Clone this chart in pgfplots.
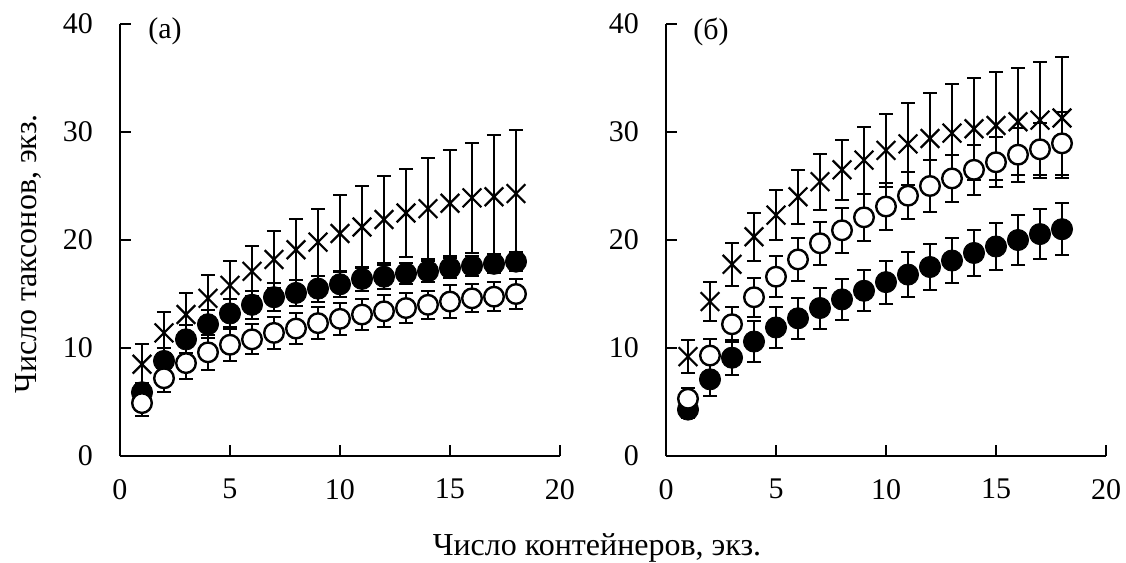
\documentclass[border=0pt]{standalone}
\usepackage{pgfplots}
\pgfplotsset{compat=1.18}
\usepackage{pgfplotstable}
\usepackage{fontspec}
\setmainfont{Liberation Serif}

% x, mean, sd -- panel (a)
\pgfplotstableread{
x y e
1 8.5 1.9
2 11.4 1.9
3 13.1 2.0
4 14.6 2.2
5 15.8 2.3
6 17.1 2.3
7 18.2 2.6
8 19.1 2.8
9 19.8 3.1
10 20.6 3.6
11 21.2 3.8
12 21.9 4.0
13 22.5 4.1
14 22.9 4.7
15 23.4 4.9
16 23.9 5.1
17 24.0 5.7
18 24.3 5.9
}\crossA
\pgfplotstableread{
x y e
1 5.9 0.9
2 8.8 1.2
3 10.8 1.3
4 12.2 1.3
5 13.2 1.3
6 14.0 1.3
7 14.7 1.3
8 15.1 1.2
9 15.5 1.2
10 15.9 1.2
11 16.4 1.1
12 16.6 1.1
13 16.9 1.0
14 17.1 1.0
15 17.4 0.9
16 17.6 0.9
17 17.8 0.9
18 18.0 0.85
}\fullA
\pgfplotstableread{
x y e
1 4.9 1.2
2 7.2 1.3
3 8.6 1.5
4 9.6 1.6
5 10.3 1.5
6 10.8 1.4
7 11.4 1.5
8 11.8 1.4
9 12.3 1.5
10 12.7 1.5
11 13.1 1.4
12 13.4 1.5
13 13.7 1.4
14 14.0 1.3
15 14.3 1.5
16 14.6 1.3
17 14.75 1.35
18 15.0 1.4
}\openA

% panel (б)
\pgfplotstableread{
x y e
1 9.2 1.5
2 14.3 1.8
3 17.75 2.0
4 20.3 2.2
5 22.3 2.3
6 24.0 2.5
7 25.4 2.6
8 26.5 2.8
9 27.4 3.1
10 28.3 3.4
11 28.9 3.8
12 29.4 4.2
13 29.9 4.5
14 30.3 4.7
15 30.6 5.0
16 30.95 4.95
17 31.1 5.4
18 31.3 5.6
}\crossB
\pgfplotstableread{
x y e
1 4.3 0.8
2 7.1 1.5
3 9.1 1.6
4 10.6 1.9
5 11.9 1.9
6 12.75 1.9
7 13.7 1.9
8 14.5 1.9
9 15.3 1.9
10 16.1 2.0
11 16.8 2.05
12 17.5 2.1
13 18.1 2.1
14 18.8 2.1
15 19.4 2.2
16 20.0 2.3
17 20.55 2.3
18 21.0 2.4
}\fullB
\pgfplotstableread{
x y e
1 5.3 1.0
2 9.3 1.5
3 12.2 1.6
4 14.7 1.8
5 16.6 1.9
6 18.2 2.0
7 19.7 2.0
8 20.9 2.1
9 22.1 2.2
10 23.1 2.2
11 24.1 2.2
12 25.0 2.4
13 25.7 2.2
14 26.5 2.3
15 27.2 2.3
16 27.9 2.5
17 28.4 2.4
18 28.95 2.9
}\openB

\pgfplotsset{
  panel/.style={
    scale only axis,
    width=220pt, height=216pt,
    xmin=0, xmax=20, ymin=0, ymax=40,
    xtick={0,5,...,20}, ytick={0,10,...,40},
    axis x line*=bottom, axis y line*=left,
    axis line style={line width=1pt},
    tick align=inside,
    major tick length=5.5pt,
    tick style={line width=1pt, black},
    /pgf/number format/assume math mode=true,
    tick label style={font=\fontsize{15}{18}\selectfont},
    yticklabel style={xshift=-10pt},
    xticklabel style={yshift=-8pt},
    clip=false,
  },
  errs/.style={
    error bars/.cd, y dir=both, y explicit,
    error bar style={line width=1pt, black},
    error mark options={rotate=90, line width=1pt, black, mark size=3.5pt},
  },
  crossm/.style={only marks, mark=x, mark size=6.6pt,
    mark options={line width=1.1pt, black}},
  fullm/.style={only marks, mark=*, mark size=5.3pt,
    mark options={fill=black, draw=black}},
  openm/.style={only marks, mark=*, mark size=4.9pt,
    mark options={fill=white, draw=black, line width=1.2pt}},
}

\begin{document}
\begin{tikzpicture}
\path[use as bounding box] (-60pt,-53.5pt) rectangle (503pt,228pt);

\begin{axis}[panel, at={(0pt,0pt)}, anchor=south west]
  \addplot[crossm, errs] table[x=x, y=y, y error=e] {\crossA};
  \addplot[fullm, errs] table[x=x, y=y, y error=e] {\fullA};
  \addplot[openm, errs] table[x=x, y=y, y error=e] {\openA};
  \node[anchor=west, font=\fontsize{15}{18}\selectfont, inner sep=0pt]
    at (axis cs:1.27,39.3) {(a)};
\end{axis}

\begin{axis}[panel, at={(273pt,0pt)}, anchor=south west]
  \addplot[crossm, errs] table[x=x, y=y, y error=e] {\crossB};
  \addplot[fullm, errs] table[x=x, y=y, y error=e] {\fullB};
  \addplot[openm, errs] table[x=x, y=y, y error=e] {\openB};
  \node[anchor=west, font=\fontsize{15}{18}\selectfont, inner sep=0pt]
    at (axis cs:1.23,39.3) {(б)};
\end{axis}

\node[font=\fontsize{16}{19}\selectfont] at (238.5pt,-46pt) {Число контейнеров, экз.};
\node[font=\fontsize{16}{19}\selectfont, rotate=90] at (-46pt,101pt) {Число таксонов, экз.};
\end{tikzpicture}
\end{document}
